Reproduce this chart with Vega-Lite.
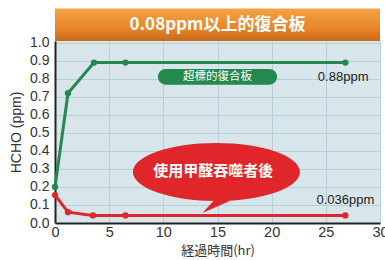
{
  "$schema": "https://vega.github.io/schema/vega-lite/v6.json",
  "width": 325,
  "height": 182,
  "autosize": "none",
  "padding": {"left": 55, "top": 41, "right": 5, "bottom": 37},
  "background": "white",
  "config": {
    "view": {"fill": "#d8e6ec", "stroke": null},
    "axis": {"labelFont": "Liberation Sans", "titleFont": "Noto Sans CJK JP", "labelColor": "#333333", "titleColor": "#333333", "gridColor": "#b4d0db", "gridWidth": 1, "domainColor": "#222222", "domainWidth": 2, "ticks": false, "labelOverlap": false}
  },
  "datasets": {
    "series": [
      {"hr": 0, "ppm": 0.2, "s": "before"},
      {"hr": 1.2, "ppm": 0.72, "s": "before"},
      {"hr": 3.6, "ppm": 0.89, "s": "before"},
      {"hr": 6.5, "ppm": 0.89, "s": "before"},
      {"hr": 26.8, "ppm": 0.89, "s": "before"},
      {"hr": 0, "ppm": 0.155, "s": "after"},
      {"hr": 1.2, "ppm": 0.06, "s": "after"},
      {"hr": 3.5, "ppm": 0.042, "s": "after"},
      {"hr": 6.5, "ppm": 0.042, "s": "after"},
      {"hr": 26.8, "ppm": 0.042, "s": "after"}
    ]
  },
  "encoding": {
    "x": {"type": "quantitative", "scale": {"domain": [0, 30]}, "axis": {"values": [0, 5, 10, 15, 20, 25, 30], "labelFontSize": 14.5, "labelPadding": 2, "title": "経過時間(hr)", "titleFontSize": 13, "titleFontWeight": "normal", "titlePadding": 6, "labelFlush": false, "labelOverlap": false}},
    "y": {"type": "quantitative", "scale": {"domain": [0, 1.01], "nice": false}, "axis": {"values": [0, 0.1, 0.2, 0.3, 0.4, 0.5, 0.6, 0.7, 0.8, 0.9, 1.0], "format": ".1f", "labelFontSize": 14, "labelPadding": 6, "labelOverlap": false, "labelFlush": false, "title": "HCHO (ppm)", "titleFont": "Liberation Sans", "titleFontSize": 14, "titleFontWeight": "normal", "titlePadding": 6}}
  },
  "layer": [
    {
      "data": {"values": [{"x1": 0, "x2": 30, "y1": 1.01, "y2": 1.19}]},
      "mark": {"type": "rect", "color": {"gradient": "linear", "x1": 0, "y1": 0, "x2": 0, "y2": 1, "stops": [{"offset": 0, "color": "#f2a244"}, {"offset": 0.6, "color": "#e8862a"}, {"offset": 1, "color": "#c9691a"}]}},
      "encoding": {
        "x": {"field": "x1"},
        "x2": {"field": "x2"},
        "y": {"field": "y1"},
        "y2": {"field": "y2"}
      }
    },
    {
      "data": {"values": [{"x": 15.0, "y": 1.1, "t": "0.08ppm以上的復合板"}]},
      "mark": {"type": "text", "color": "white", "font": "Noto Sans CJK TC", "fontWeight": "bold", "fontSize": 17, "align": "center", "baseline": "middle"},
      "encoding": {
        "x": {"field": "x"},
        "y": {"field": "y"},
        "text": {"field": "t"}
      }
    },
    {
      "data": {"name": "series"},
      "mark": {"type": "line", "strokeWidth": 3},
      "encoding": {
        "x": {"field": "hr"},
        "y": {"field": "ppm"},
        "color": {"field": "s", "type": "nominal", "scale": {"domain": ["before", "after"], "range": ["#23894f", "#e0262b"]}, "legend": null}
      }
    },
    {
      "data": {"name": "series"},
      "mark": {"type": "point", "filled": true, "opacity": 1, "size": 40},
      "encoding": {
        "x": {"field": "hr"},
        "y": {"field": "ppm"},
        "color": {"field": "s", "type": "nominal", "scale": {"domain": ["before", "after"], "range": ["#23894f", "#e0262b"]}, "legend": null}
      }
    },
    {
      "data": {"values": [{"x1": 9.5, "x2": 20.5, "y1": 0.767, "y2": 0.855}]},
      "mark": {"type": "rect", "color": "#23894f", "cornerRadius": 8},
      "encoding": {
        "x": {"field": "x1"},
        "x2": {"field": "x2"},
        "y": {"field": "y1"},
        "y2": {"field": "y2"}
      }
    },
    {
      "data": {"values": [{"x": 15.0, "y": 0.811, "t": "超標的復合板"}]},
      "mark": {"type": "text", "color": "white", "font": "Noto Sans CJK TC", "fontSize": 11.5, "align": "center", "baseline": "middle", "letterSpacing": 2},
      "encoding": {
        "x": {"field": "x"},
        "y": {"field": "y"},
        "text": {"field": "t"}
      }
    },
    {
      "data": {"values": [{"x": 14.9, "y": 0.283}]},
      "mark": {"type": "point", "shape": "M -1 0 A 1 0.347 0 1 1 1 0 A 1 0.347 0 1 1 -1 0 Z M -0.02 0.33 L 0.22 0.32 L -0.168 0.491 Z", "filled": true, "opacity": 1, "size": 27889, "color": "#e0262b"},
      "encoding": {
        "x": {"field": "x"},
        "y": {"field": "y"}
      }
    },
    {
      "data": {"values": [{"x": 14.6, "y": 0.289, "t": "使用甲醛吞噬者後"}]},
      "mark": {"type": "text", "color": "white", "font": "Noto Sans CJK TC", "fontWeight": "bold", "fontSize": 15, "align": "center", "baseline": "middle"},
      "encoding": {
        "x": {"field": "x"},
        "y": {"field": "y"},
        "text": {"field": "t"}
      }
    },
    {
      "data": {"values": [{"x": 26.6, "y": 0.811, "t": "0.88ppm"}, {"x": 26.8, "y": 0.128, "t": "0.036ppm"}]},
      "mark": {"type": "text", "color": "#222222", "font": "Liberation Sans", "fontSize": 13, "align": "center", "baseline": "middle"},
      "encoding": {
        "x": {"field": "x"},
        "y": {"field": "y"},
        "text": {"field": "t"}
      }
    }
  ]
}
